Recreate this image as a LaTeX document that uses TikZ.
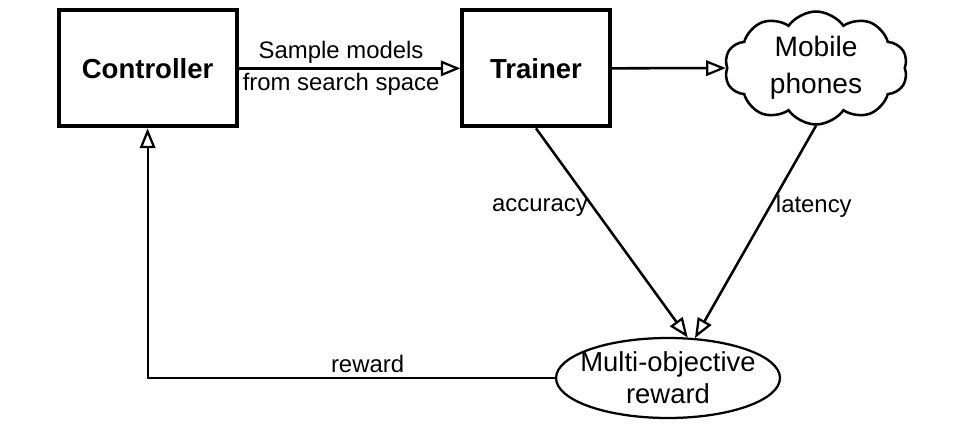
\documentclass[tikz,border=0pt]{standalone}
\usepackage{fontspec}
\setmainfont{Liberation Sans}
\usetikzlibrary{arrows.meta,shapes.geometric,shapes.symbols}

\begin{document}
\begin{tikzpicture}[
    block/.style={draw, line width=2.8pt, font=\fontsize{19.6}{23}\selectfont\bfseries},
    flow/.style={line width=1.8pt, -{Triangle[open, length=14pt, width=11pt, line width=1.6pt]}},
    lbl/.style={font=\fontsize{17}{23}\selectfont}
  ]
    \useasboundingbox (0,0) rectangle (23.85,10.65);
    \node[block, minimum width=4.45cm, minimum height=2.9cm] (ctrl) at (3.69,8.94) {Controller};
    \node[block, minimum width=3.68cm, minimum height=2.9cm] (trainer) at (13.4,8.94) {Trainer};
    \node[cloud, draw, line width=1.8pt, cloud puffs=10, cloud puff arc=110, aspect=2,
          inner sep=0pt, minimum width=4.3cm, minimum height=1.9cm, align=center,
          font=\fontsize{20}{26}\selectfont] (phones) at (20.4,8.95) {Mobile\\phones};
    \node[ellipse, draw, line width=1.6pt, inner xsep=-6pt, inner ysep=0pt,
          minimum height=2cm, align=center,
          font=\fontsize{19.5}{23}\selectfont] (reward) at (16.7,1.2) {Multi-objective\\reward};
    \draw[flow] (ctrl) -- node[lbl, align=center, xshift=-6pt] (sample) {Sample models\\from search space} (trainer);
    \draw[flow] (trainer) -- (phones);
    \draw[flow] (trainer.south) -- node[lbl, pos=0.38, left] (acc) {accuracy} (reward.64);
    \draw[flow] (phones.south) -- node[lbl, pos=0.38, right] (lat) {latency} (reward.56);
    \draw[flow, line width=1.4pt] (reward.west) -| node[lbl, pos=0.23, above] (rw) {reward} (ctrl.south);
\end{tikzpicture}
\end{document}
